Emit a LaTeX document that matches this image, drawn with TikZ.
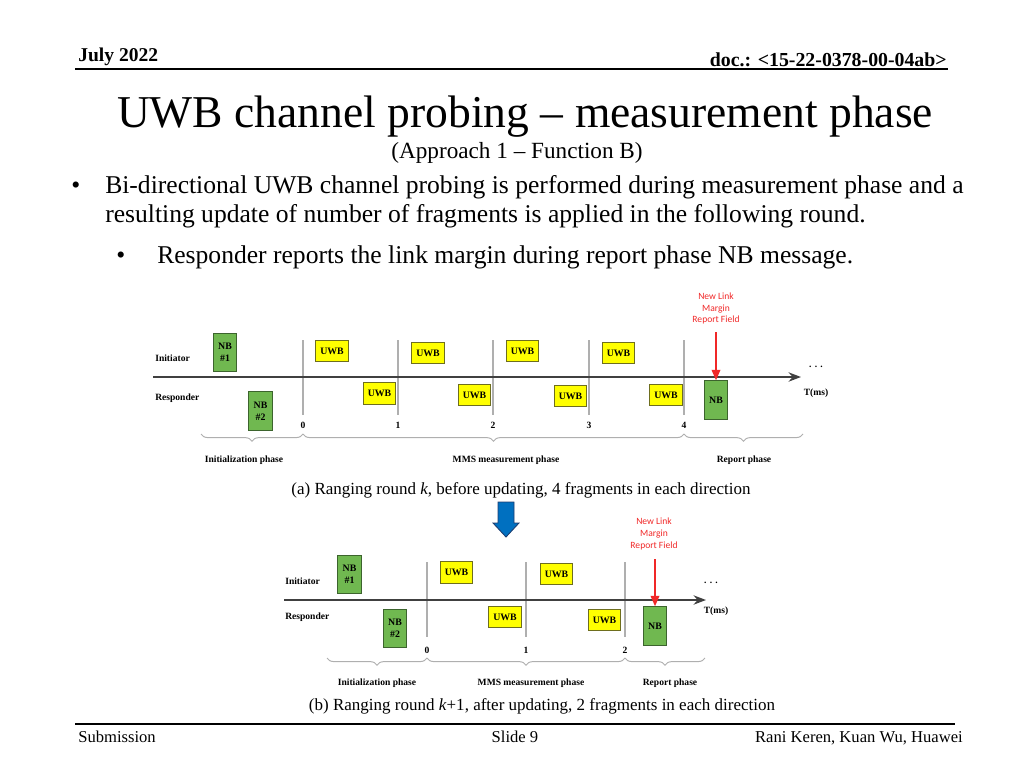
\documentclass[tikz,border=0pt]{standalone}
\usepackage{fontspec}
\setmainfont{Liberation Serif}
\newfontfamily\calfont{Carlito}
\usetikzlibrary{arrows.meta, positioning, decorations.pathreplacing}
\definecolor{nb_green}{RGB}{112,184,80}
\definecolor{nb_edge}{RGB}{60,100,45}
\definecolor{uwb_yellow}{RGB}{255,255,0}
\definecolor{uwb_edge}{RGB}{110,110,30}
\definecolor{tick_gray}{RGB}{175,175,175}
\definecolor{down_blue}{RGB}{0,112,192}
\definecolor{down_edge}{RGB}{30,60,110}
\definecolor{lm_red}{RGB}{240,40,40}

\begin{document}
\begin{tikzpicture}[x=0.25mm, y=-0.25mm, >={Stealth},
    uwbbox/.style={draw=uwb_edge, fill=uwb_yellow, line width=0.6pt, minimum width=8.2mm, minimum height=5.4mm, inner sep=0pt, font=\fontsize{7}{7}\selectfont\bfseries},
    nbbox/.style={draw=nb_edge, fill=nb_green, line width=0.6pt, minimum width=5.9mm, minimum height=9.7mm, inner sep=0pt, align=center, font=\fontsize{7}{8.5}\selectfont\bfseries},
    lane/.style={font=\fontsize{6.8}{8}\selectfont\bfseries, inner sep=0pt},
    num/.style={font=\fontsize{6.8}{8}\selectfont\bfseries, inner sep=0pt},
    phase/.style={font=\fontsize{6.8}{8}\selectfont\bfseries, inner sep=0pt},
    lmnote/.style={font=\fontsize{6.8}{8.4}\selectfont\calfont, text=lm_red, align=center, inner sep=0pt},
    lmarrow/.style={-{Triangle[length=2.6mm, width=2.2mm]}, draw=lm_red, fill=lm_red, line width=0.9pt},
    tickline/.style={tick_gray, line width=0.9pt},
    timeaxis/.style={->, black!75, line width=1.3pt},
    phasebrace/.style={tick_gray, line width=0.7pt, decorate, decoration={brace, mirror, amplitude=1.8mm}},
    captext/.style={font=\fontsize{12.1}{14}\selectfont, inner sep=0pt}]
  \useasboundingbox (0,0) rectangle (1024,768);
  % header
  \node[anchor=base west, inner sep=0pt, font=\fontsize{13.9}{15}\selectfont\bfseries] (hdate) at (78,61) {July 2022};
  \node[anchor=base east, inner sep=0pt, font=\fontsize{14.1}{15}\selectfont\bfseries] (hdoc) at (947,66) {doc.: <15-22-0378-00-04ab>};
  \draw[line width=1.2pt] (75,69) -- (948,69);
  \node[anchor=base, inner sep=0pt, font=\fontsize{32.4}{38}\selectfont] (title) at (525,127) {UWB channel probing -- measurement phase};
  \node[anchor=base, inner sep=0pt, font=\fontsize{16.5}{18}\selectfont] (subtitle) at (517,158) {(Approach 1 -- Function B)};
  % bullets
  \node[anchor=base west, inner sep=0pt, font=\fontsize{18.2}{21}\selectfont] (b1) at (71,193) {\textbullet};
  \node[anchor=base west, inner sep=0pt, font=\fontsize{18.2}{21}\selectfont] (l1) at (105,193) {Bi-directional UWB channel probing is performed during measurement phase and a};
  \node[anchor=base west, inner sep=0pt, font=\fontsize{18.2}{21}\selectfont] (l2) at (105,222) {resulting update of number of fragments is applied in the following round.};
  \node[anchor=base west, inner sep=0pt, font=\fontsize{18.2}{21}\selectfont] (b2) at (116,263) {\textbullet};
  \node[anchor=base west, inner sep=0pt, font=\fontsize{18.2}{21}\selectfont] (l3) at (157,263) {Responder reports the link margin during report phase NB message.};

  % ranging round k
  \node[lane, anchor=base west] (initA) at (155,361) {Initiator};
  \node[lane, anchor=base west] (respA) at (155,400) {Responder};
  \foreach \x/\n in {303/0, 398/1, 493/2, 589/3, 684/4} {
    \draw[tickline] (\x,340) -- (\x,415);
    \node[num] (tA\n) at (\x,425) {\n};
  }
  \draw[timeaxis] (153,377) -- (801,377);
  \node[num] (dotsA) at (816,367) {. . .};
  \node[num] (tmsA) at (816,393) {T(ms)};
  \node[nbbox] (nbA1) at (225,352.5) {NB\\\#1};
  \node[nbbox] (nbA2) at (260.5,411) {NB\\\#2};
  \node[nbbox] (nbAr) at (716,400) {NB};
  \node[uwbbox] (uiA1) at (332,351) {UWB};
  \node[uwbbox] (uiA2) at (428,353) {UWB};
  \node[uwbbox] (uiA3) at (522.5,351) {UWB};
  \node[uwbbox] (uiA4) at (618.5,353) {UWB};
  \node[uwbbox] (urA1) at (379.5,393.5) {UWB};
  \node[uwbbox] (urA2) at (474.5,395) {UWB};
  \node[uwbbox] (urA3) at (570.5,396) {UWB};
  \node[uwbbox] (urA4) at (666,395) {UWB};
  \node[lmnote] (lmA) at (716,308.5) {New Link\\Margin\\Report Field};
  \coordinate (lmAtop) at (716,332);
  \draw[lmarrow] (lmAtop) -- (nbAr.north);
  \draw[phasebrace] (201,434) -- (303,434);
  \draw[phasebrace] (303,434) -- (684,434);
  \draw[phasebrace] (684,434) -- (803,434);
  \node[phase] (phA1) at (244,460) {Initialization phase};
  \node[phase] (phA2) at (506,460) {MMS measurement phase};
  \node[phase] (phA3) at (744,460) {Report phase};
  \node[captext] (capA) at (521,490) {(a) Ranging round \textit{k}, before updating, 4 fragments in each direction};

  % update arrow
  \draw[fill=down_blue, draw=down_edge, line width=0.6pt] (498,502) -- (514,502) -- (514,523) -- (519,523) -- (506,537) -- (493,523) -- (498,523) -- cycle;

  % ranging round k+1
  \node[lane, anchor=base west] (initB) at (285,584) {Initiator};
  \node[lane, anchor=base west] (respB) at (285,619) {Responder};
  \foreach \x/\n in {427/0, 526/1, 625/2} {
    \draw[tickline] (\x,562) -- (\x,637);
    \node[num] (tB\n) at (\x,650) {\n};
  }
  \draw[timeaxis] (284,600) -- (706,600);
  \node[num] (dotsB) at (711,583) {. . .};
  \node[num] (tmsB) at (716,611) {T(ms)};
  \node[nbbox] (nbB1) at (349.5,574.5) {NB\\\#1};
  \node[nbbox] (nbB2) at (395,628.5) {NB\\\#2};
  \node[nbbox] (nbBr) at (655,626) {NB};
  \node[uwbbox] (uiB1) at (456.5,572.5) {UWB};
  \node[uwbbox] (uiB2) at (556.5,574) {UWB};
  \node[uwbbox] (urB1) at (505,617) {UWB};
  \node[uwbbox] (urB2) at (604.5,620) {UWB};
  \node[lmnote] (lmB) at (654,534) {New Link\\Margin\\Report Field};
  \coordinate (lmBtop) at (655,559);
  \draw[lmarrow] (lmBtop) -- (nbBr.north);
  \draw[phasebrace] (327,658) -- (427,658);
  \draw[phasebrace] (427,658) -- (625,658);
  \draw[phasebrace] (625,658) -- (705,658);
  \node[phase] (phB1) at (377,683) {Initialization phase};
  \node[phase] (phB2) at (531,683) {MMS measurement phase};
  \node[phase] (phB3) at (670,683) {Report phase};
  \node[captext] (capB) at (542,706) {(b) Ranging round \textit{k}+1, after updating, 2 fragments in each direction};

  % footer
  \draw[line width=1.2pt] (75,724) -- (955,724);
  \node[anchor=base west, inner sep=0pt, font=\fontsize{11.8}{13}\selectfont] (fsub) at (78,742) {Submission};
  \node[anchor=base, inner sep=0pt, font=\fontsize{11.8}{13}\selectfont] (fslide) at (515,742) {Slide 9};
  \node[anchor=base east, inner sep=0pt, font=\fontsize{11.8}{13}\selectfont] (fauth) at (963,742) {Rani Keren, Kuan Wu, Huawei};
\end{tikzpicture}
\end{document}
